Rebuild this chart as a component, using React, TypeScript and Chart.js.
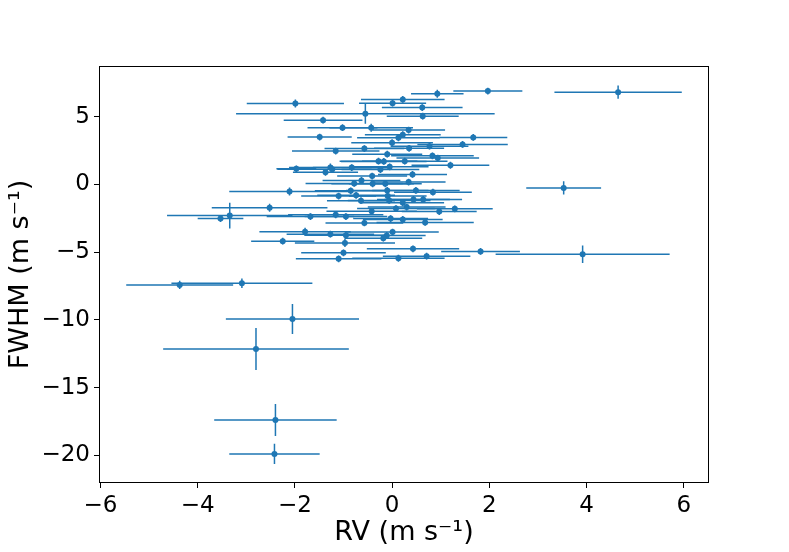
import React, { useEffect, useRef } from "react";
import { Chart, registerables } from "chart.js";

Chart.register(...registerables);

// RV values (m/s)
const rvValues = [
  1.97, 4.65, 0.93, 0.22, -1.99, 0.01, 0.62, -0.55, 0.63, -1.42,
  -1.02, -0.43, 0.34, -1.49, 1.67, 0.22, 0.13, 0.0, 1.45, 0.77,
  -0.57, 0.35, -1.16, -0.1, 0.83, 0.94, -0.28, -0.17, 0.26, 1.2,
  -1.27, -0.83, -1.97, -1.23, -0.24, -0.05, -1.37, -0.41, 0.42, -0.63,
  -0.78, 0.34, -0.4, -0.14, -2.11, -0.85, -0.1, 0.49, 0.84, 3.53,
  -1.1, -0.74, -0.09, -0.64, -0.06, 0.64, 0.22, 0.44, -2.52, 0.08,
  1.29, 0.3, -0.42, 0.97, -3.34, -3.53, -1.68, -1.16, -0.95, -0.57,
  -0.03, 0.22, 0.68, -1.79, -1.27, -0.95, 0.01, -0.11, -0.18, -2.25,
  -0.97, 0.43, 1.82, 3.92, -1.0, 0.71, 0.13, -1.1, -4.37, -3.09,
  -2.05, -2.8, -2.4, -2.42,
];
// RV errors
const rvErrors = [
  0.71, 1.31, 0.54, 0.86, 1.0, 0.69, 0.83, 2.66, 0.74, 0.81,
  0.72, 0.86, 0.75, 0.66, 0.7, 0.78, 0.85, 0.84, 0.93, 0.8,
  0.82, 0.72, 0.9, 0.72, 0.85, 0.85, 0.8, 0.88, 0.88, 0.8,
  0.85, 0.8, 0.41, 1.13, 0.8, 0.8, 0.67, 0.72, 0.71, 0.8,
  1.0, 0.76, 0.85, 0.75, 1.24, 0.74, 0.85, 0.9, 0.8, 0.77,
  0.77, 0.8, 0.8, 0.7, 0.85, 0.8, 0.85, 0.75, 1.19, 0.8,
  0.78, 0.8, 0.93, 0.77, 1.29, 0.47, 0.9, 0.98, 0.85, 0.8,
  0.77, 0.82, 1.0, 0.94, 0.9, 0.85, 0.95, 0.8, 0.8, 0.65,
  1.03, 0.95, 0.81, 1.79, 0.87, 0.9, 0.95, 0.88, 1.1, 1.45,
  1.37, 1.91, 1.26, 0.93,
];
// FWHM values (m/s)
const fwhmValues = [
  6.9, 6.82, 6.7, 6.28, 5.98, 6.0, 5.68, 5.22, 5.04, 4.75,
  4.19, 4.19, 4.02, 3.5, 3.47, 3.68, 3.45, 3.09, 2.96, 2.83,
  2.65, 2.67, 2.47, 2.24, 2.12, 1.95, 1.72, 1.7, 1.72, 1.42,
  1.25, 1.25, 1.16, 1.13, 1.1, 1.3, 0.9, 0.62, 0.74, 0.3,
  0.08, 0.18, 0.05, 0.05, -0.52, -0.47, -0.44, -0.44, -0.57, -0.26,
  -0.86, -0.8, -0.86, -1.2, -1.18, -1.11, -1.35, -1.11, -1.72, -1.78,
  -1.8, -1.67, -1.98, -2.0, -2.3, -2.52, -2.37, -2.24, -2.37, -2.84,
  -2.52, -2.58, -2.8, -3.49, -3.67, -3.75, -3.52, -3.77, -3.97, -4.19,
  -4.32, -4.75, -4.95, -5.15, -5.05, -5.3, -5.45, -5.49, -7.42, -7.3,
  -9.93, -12.15, -17.4, -19.9,
];
// FWHM errors
const fwhmErrors = [
  0.25, 0.49, 0.3, 0.25, 0.3, 0.25, 0.25, 0.74, 0.25, 0.25,
  0.25, 0.3, 0.25, 0.25, 0.25, 0.25, 0.25, 0.25, 0.25, 0.25,
  0.25, 0.25, 0.25, 0.25, 0.25, 0.25, 0.25, 0.25, 0.25, 0.25,
  0.3, 0.25, 0.25, 0.25, 0.25, 0.25, 0.25, 0.25, 0.25, 0.25,
  0.25, 0.25, 0.25, 0.25, 0.3, 0.25, 0.25, 0.25, 0.25, 0.49,
  0.25, 0.25, 0.25, 0.25, 0.25, 0.25, 0.25, 0.25, 0.3, 0.25,
  0.25, 0.25, 0.25, 0.25, 0.95, 0.25, 0.25, 0.25, 0.25, 0.25,
  0.25, 0.25, 0.25, 0.3, 0.25, 0.25, 0.25, 0.25, 0.25, 0.25,
  0.3, 0.25, 0.25, 0.65, 0.25, 0.25, 0.25, 0.25, 0.3, 0.35,
  1.11, 1.55, 1.18, 0.75,
];

const xTicks = [-6, -4, -2, 0, 2, 4, 6];
const yTicks = [-20, -15, -10, -5, 0, 5];

const BLUE = "#1f77b4";
const FONT = "'DejaVu Sans', sans-serif";

const fmt = (v: number) => (v < 0 ? "\u2212" + Math.abs(v) : String(v));

const errorBarPlugin = {
  id: "errorBars",
  beforeDatasetsDraw(chart: any) {
    const { ctx, chartArea, scales } = chart;
    const xs = scales.x;
    const ys = scales.y;
    ctx.save();
    ctx.beginPath();
    ctx.rect(chartArea.left, chartArea.top, chartArea.right - chartArea.left, chartArea.bottom - chartArea.top);
    ctx.clip();
    ctx.strokeStyle = BLUE;
    ctx.lineWidth = 1.5;
    for (let i = 0; i < rvValues.length; i++) {
      const x = rvValues[i];
      const y = fwhmValues[i];
      const px = xs.getPixelForValue(x);
      const py = ys.getPixelForValue(y);
      ctx.beginPath();
      ctx.moveTo(xs.getPixelForValue(x - rvErrors[i]), py);
      ctx.lineTo(xs.getPixelForValue(x + rvErrors[i]), py);
      ctx.moveTo(px, ys.getPixelForValue(y - fwhmErrors[i]));
      ctx.lineTo(px, ys.getPixelForValue(y + fwhmErrors[i]));
      ctx.stroke();
    }
    ctx.restore();
  },
  afterDraw(chart: any) {
    const { ctx, chartArea } = chart;
    ctx.save();
    ctx.strokeStyle = "#000";
    ctx.lineWidth = 1;
    const l = Math.round(chartArea.left) + 0.5;
    const t = Math.round(chartArea.top) + 0.5;
    const r = Math.round(chartArea.right) - 0.5;
    const b = Math.round(chartArea.bottom) - 0.5;
    ctx.strokeRect(l, t, r - l, b - t);
    ctx.restore();
  },
};

export default function App() {
  const ref = useRef<HTMLCanvasElement | null>(null);
  useEffect(() => {
    if (!ref.current) return;
    const chart = new Chart(ref.current, {
      type: "scatter",
      data: {
        datasets: [
          {
            data: rvValues.map((x, i) => ({ x, y: fwhmValues[i] })),
            backgroundColor: BLUE,
            borderWidth: 0,
            pointRadius: 3,
            pointHoverRadius: 3,
          },
        ],
      },
      options: {
        responsive: false,
        animation: false,
        devicePixelRatio: 1,
        layout: { padding: { top: 66, right: 80, left: 0, bottom: 0 } },
        plugins: { legend: { display: false }, tooltip: { enabled: false } },
        events: [],
        scales: {
          x: {
            type: "linear",
            min: -6.03,
            max: 6.52,
            afterBuildTicks: (s: any) => {
              s.ticks = xTicks.map((v) => ({ value: v }));
            },
            afterFit: (s: any) => {
              s.height = 69;
            },
            grid: { drawOnChartArea: false, drawTicks: true, tickLength: 5, color: "#000", lineWidth: 1 },
            border: { display: false },
            ticks: {
              color: "#000",
              padding: 4,
              maxRotation: 0,
              autoSkip: false,
              font: { family: FONT, size: 23 },
              callback: (v: any) => fmt(Number(v)),
            },
            title: {
              display: true,
              text: "RV (m s\u207B\u00B9)",
              color: "#000",
              font: { family: FONT, size: 27, lineHeight: 1.2 },
              padding: { top: 0, bottom: 3 },
            },
          },
          y: {
            type: "linear",
            min: -22.05,
            max: 8.75,
            afterBuildTicks: (s: any) => {
              s.ticks = yTicks.map((v) => ({ value: v }));
            },
            afterFit: (s: any) => {
              s.width = 99;
            },
            grid: { drawOnChartArea: false, drawTicks: true, tickLength: 5, color: "#000", lineWidth: 1 },
            border: { display: false },
            ticks: {
              color: "#000",
              padding: 4,
              autoSkip: false,
              font: { family: FONT, size: 23 },
              callback: (v: any) => fmt(Number(v)),
            },
            title: {
              display: true,
              text: "FWHM (m s\u207B\u00B9)",
              color: "#000",
              font: { family: FONT, size: 27, lineHeight: 1.2 },
              padding: { top: 5, bottom: 0 },
            },
          },
        },
      },
      plugins: [errorBarPlugin],
    });
    return () => chart.destroy();
  }, []);
  return (
    <div style={{ position: "fixed", left: 0, top: 0, width: 789, height: 552, background: "#fff" }}>
      <canvas ref={ref} width={789} height={552} style={{ width: 789, height: 552, display: "block" }} />
    </div>
  );
}
